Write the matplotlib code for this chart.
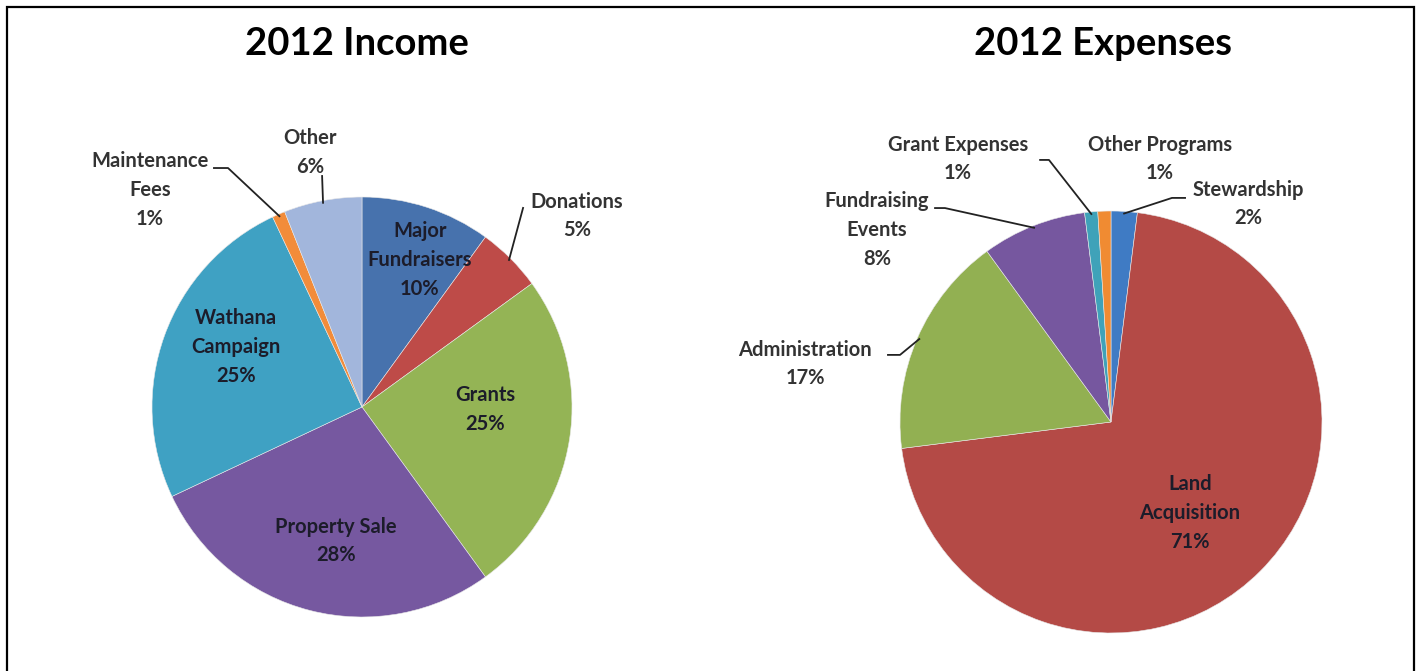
import numpy as np
import matplotlib.pyplot as plt
from matplotlib.patches import Rectangle

# ---- data ----
income_labels = ['Major\nFundraisers', 'Donations', 'Grants', 'Property Sale',
                 'Wathana\nCampaign', 'Maintenance\nFees', 'Other']
income_values = [10, 5, 25, 28, 25, 1, 6]
income_colors = ['#4772ad', '#be4b48', '#94b455', '#7658a0', '#3fa1c3', '#f28c3a', '#a2b6dc']

expense_labels = ['Stewardship', 'Land\nAcquisition', 'Administration',
                  'Fundraising\nEvents', 'Grant Expenses', 'Other Programs']
expense_values = [2, 71, 17, 8, 1, 1]
expense_colors = ['#3f7bc4', '#b44a46', '#92b052', '#76579f', '#3fa2b9', '#f08b32']

# ---- label layout (pie units, radius = 1) ----
# (x, y, inside, leader points)
income_layout = [
    (0.276, 0.700, True, None),
    (1.024, 0.910, False, [(0.767, 0.948)]),
    (0.586, -0.010, True, None),
    (-0.124, -0.638, True, None),
    (-0.600, 0.286, True, None),
    (-1.010, 1.033, False, [(-0.638, 1.138), (-0.705, 1.138)]),
    (-0.248, 1.210, False, [(-0.190, 1.100)]),
]
expense_layout = [
    (0.649, 1.033, False, [(0.289, 1.062), (0.351, 1.062)]),
    (0.374, -0.431, True, None),
    (-1.450, 0.275, False, [(-1.0, 0.318), (-1.057, 0.318)]),
    (-1.109, 0.910, False, [(-0.787, 1.014), (-0.834, 1.014)]),
    (-0.725, 1.246, False, [(-0.294, 1.242), (-0.336, 1.242)]),
    (0.232, 1.246, False, None),
]

W, H = 1421, 671
FONT = 'Lato'
fig = plt.figure(figsize=(W / 100, H / 100), dpi=100)


def make_axes(cx, cy, r, x0, x1, y0, y1):
    # pixel box -> axes with pie center (cx, cy) and radius r pixels
    ax = fig.add_axes([x0 / W, 1 - y1 / H, (x1 - x0) / W, (y1 - y0) / H])
    return ax, ((x0 - cx) / r, (x1 - cx) / r), ((cy - y1) / r, (cy - y0) / r)


def draw_pie(ax, xlim, ylim, values, labels, colors, layout):
    wedges, _ = ax.pie(values, colors=colors, startangle=90, counterclock=False,
                       radius=1.0, wedgeprops=dict(linewidth=0.4, edgecolor='#e8e8e8'))
    total = sum(values)
    for w, lab, v, (lx, ly, inside, leader) in zip(wedges, labels, values, layout):
        txt = f'{lab}\n{round(100 * v / total)}%'
        ax.text(lx, ly, txt, ha='center', va='center', fontsize=14.5,
                fontweight='bold', family=FONT, linespacing=1.55,
                color='#1c1c2a' if inside else '#333333')
        if leader:
            mid = np.deg2rad((w.theta1 + w.theta2) / 2)
            pts = [(np.cos(mid) * 0.99, np.sin(mid) * 0.99)] + leader
            ax.plot([p[0] for p in pts], [p[1] for p in pts], color='#222222', lw=1.3)
    ax.set_xlim(*xlim)
    ax.set_ylim(*ylim)
    ax.set_aspect('auto')
    ax.axis('off')


ax1, xl1, yl1 = make_axes(362, 407, 210, 40, 700, 110, 660)
draw_pie(ax1, xl1, yl1, income_values, income_labels, income_colors, income_layout)

ax2, xl2, yl2 = make_axes(1111, 422, 211, 710, 1400, 110, 660)
draw_pie(ax2, xl2, yl2, expense_values, expense_labels, expense_colors, expense_layout)

fig.text(357 / W, 1 - 44 / H, '2012 Income', ha='center', va='center',
         fontsize=27.5, fontweight='bold', family=FONT, color='black')
fig.text(1103 / W, 1 - 44 / H, '2012 Expenses', ha='center', va='center',
         fontsize=27.5, fontweight='bold', family=FONT, color='black')

# frame around the chart area
fig.add_artist(Rectangle((7 / W, -0.05), (1414 - 7) / W, 1.05 - 7 / H,
                         transform=fig.transFigure, fill=False,
                         edgecolor='black', linewidth=1.6))

fig.savefig('out.png', dpi=100)
